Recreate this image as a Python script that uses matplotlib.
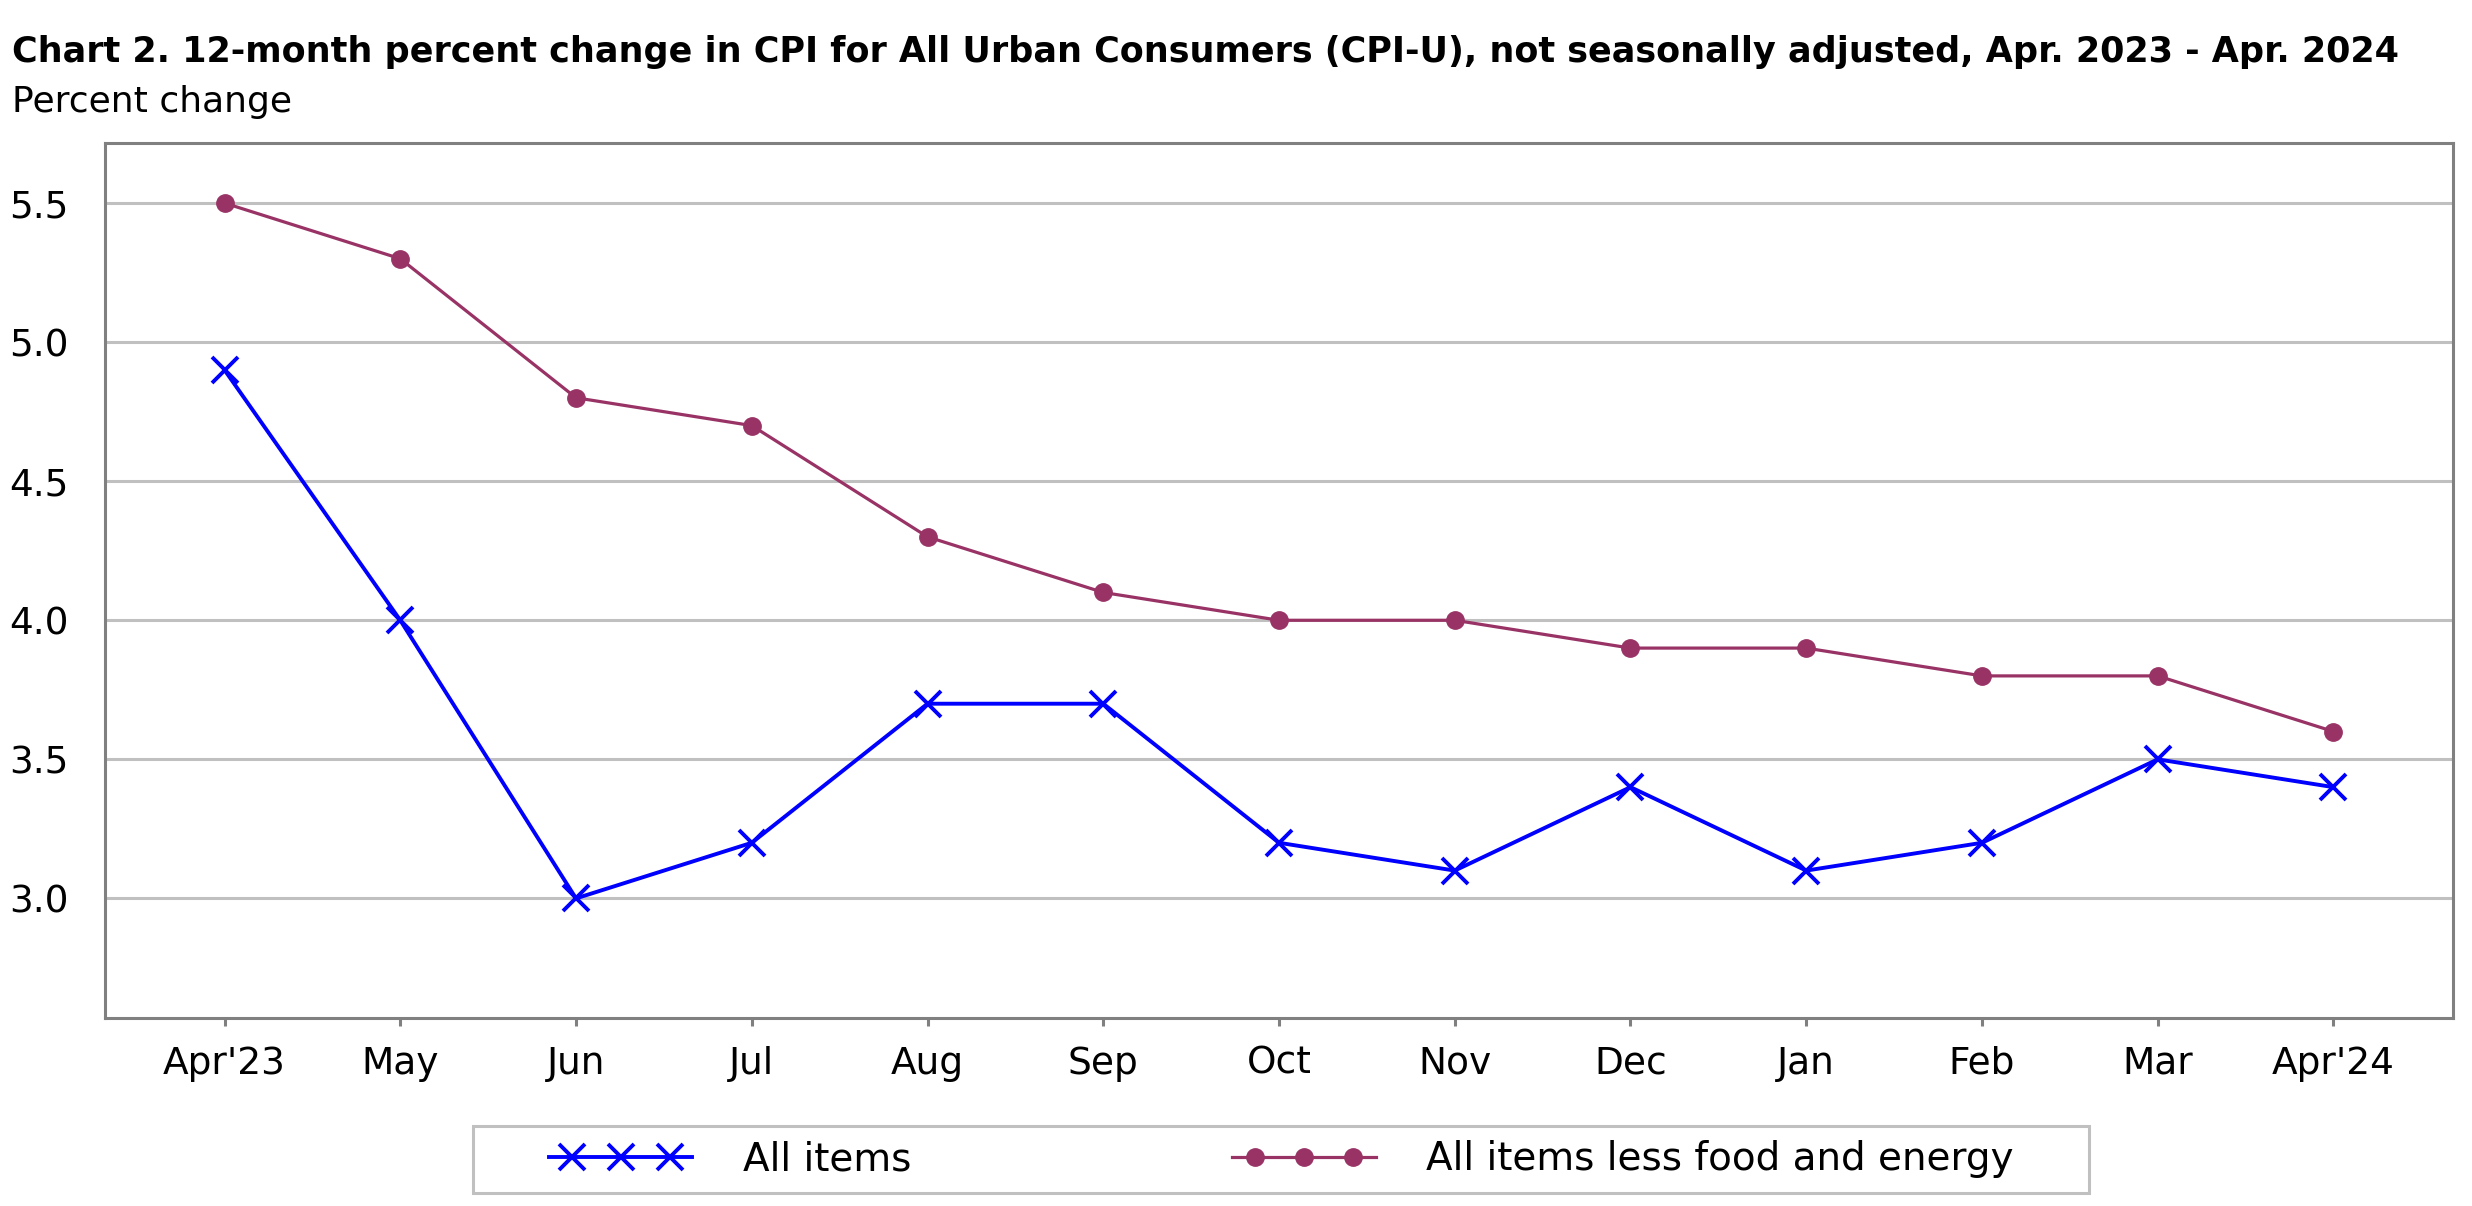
import numpy as np
import matplotlib
matplotlib.use("Agg")
import matplotlib.pyplot as plt
from matplotlib.patches import Rectangle
from matplotlib.legend_handler import HandlerLine2D

# data
months = ["Apr'23", "May", "Jun", "Jul", "Aug", "Sep", "Oct", "Nov", "Dec",
          "Jan", "Feb", "Mar", "Apr'24"]
all_items = [4.9, 4.0, 3.0, 3.2, 3.7, 3.7, 3.2, 3.1, 3.4, 3.1, 3.2, 3.5, 3.4]
core_items = [5.5, 5.3, 4.8, 4.7, 4.3, 4.1, 4.0, 4.0, 3.9, 3.9, 3.8, 3.8, 3.6]
y_ticks = [3.0, 3.5, 4.0, 4.5, 5.0, 5.5]

blue = "#0000ff"
purple = "#993366"
grid_col = "#c0c0c0"
spine_col = "#808080"

plt.rcParams["font.family"] = ["DejaVu Sans"]


# legend handle: line runs the full handle length, 3 markers sit inset from the ends
class FullLineHandler(HandlerLine2D):
    def get_xdata(self, legend, xdescent, ydescent, width, height, fontsize):
        pad = self._marker_pad * fontsize
        xm = np.linspace(-xdescent + pad, -xdescent + width - pad, 3)
        xl = np.concatenate([[-xdescent], xm, [-xdescent + width]])
        return xl, xm

    def create_artists(self, *args, **kwargs):
        artists = super().create_artists(*args, **kwargs)
        for a in artists:
            a.set_markevery([1, 2, 3])
        return artists


W, H = 2472, 1206
fig = plt.figure(figsize=(W / 100, H / 100), dpi=100)

# axes box in pixels: left 105, right 2453, top 143, bottom 1018
ax = fig.add_axes([105 / W, 1 - 1018 / H, (2453 - 105) / W, (1018 - 143) / H])

x = np.arange(len(months))
l1, = ax.plot(x, all_items, color=blue, lw=2.8, marker="x", ms=19, mew=2.8,
              label="All items", zorder=3)
l2, = ax.plot(x, core_items, color=purple, lw=2.3, marker="o", ms=12.5,
              label="All items less food and energy", zorder=3)

ax.set_xlim(-0.68, 12.68)
ax.set_ylim(2.57, 5.716)
ax.set_xticks(x)
ax.set_xticklabels(months)
ax.set_yticks(y_ticks)
ax.set_yticklabels([f"{v:.1f}" for v in y_ticks])

ax.yaxis.grid(True, color=grid_col, lw=2.2)
ax.set_axisbelow(True)
for s in ax.spines.values():
    s.set_color(spine_col)
    s.set_linewidth(2.2)

ax.tick_params(axis="y", length=0, labelsize=27, pad=26)
ax.tick_params(axis="x", length=6, width=2.2, color=spine_col, labelsize=27, pad=14)

# title and unit label
fig.text(12 / W, 1 - 62 / H, "Chart 2. 12-month percent change in CPI for All Urban Consumers "
         "(CPI-U), not seasonally adjusted, Apr. 2023 - Apr. 2024",
         fontsize=25.2, fontweight="bold", ha="left", va="baseline")
fig.text(12 / W, 1 - 112 / H, "Percent change", fontsize=26, ha="left", va="baseline")

# legend box drawn separately, legend entries centred inside it
fig.patches.append(Rectangle((473 / W, 1 - 1193 / H), 1616 / W, 67 / H,
                             transform=fig.transFigure, facecolor="white",
                             edgecolor=grid_col, lw=2.2, zorder=0))
hm = {l1: FullLineHandler(marker_pad=0.59, numpoints=3),
      l2: FullLineHandler(marker_pad=0.59, numpoints=3)}
leg = fig.legend(handles=[l1, l2], loc="center", ncol=2,
                 bbox_to_anchor=(1281 / W, 1 - 1159.5 / H),
                 borderaxespad=0, borderpad=0, numpoints=3, handlelength=3.7,
                 handletextpad=1.29, columnspacing=8.25, handler_map=hm,
                 fontsize=28, frameon=False)

fig.savefig("out.png", dpi=100)
